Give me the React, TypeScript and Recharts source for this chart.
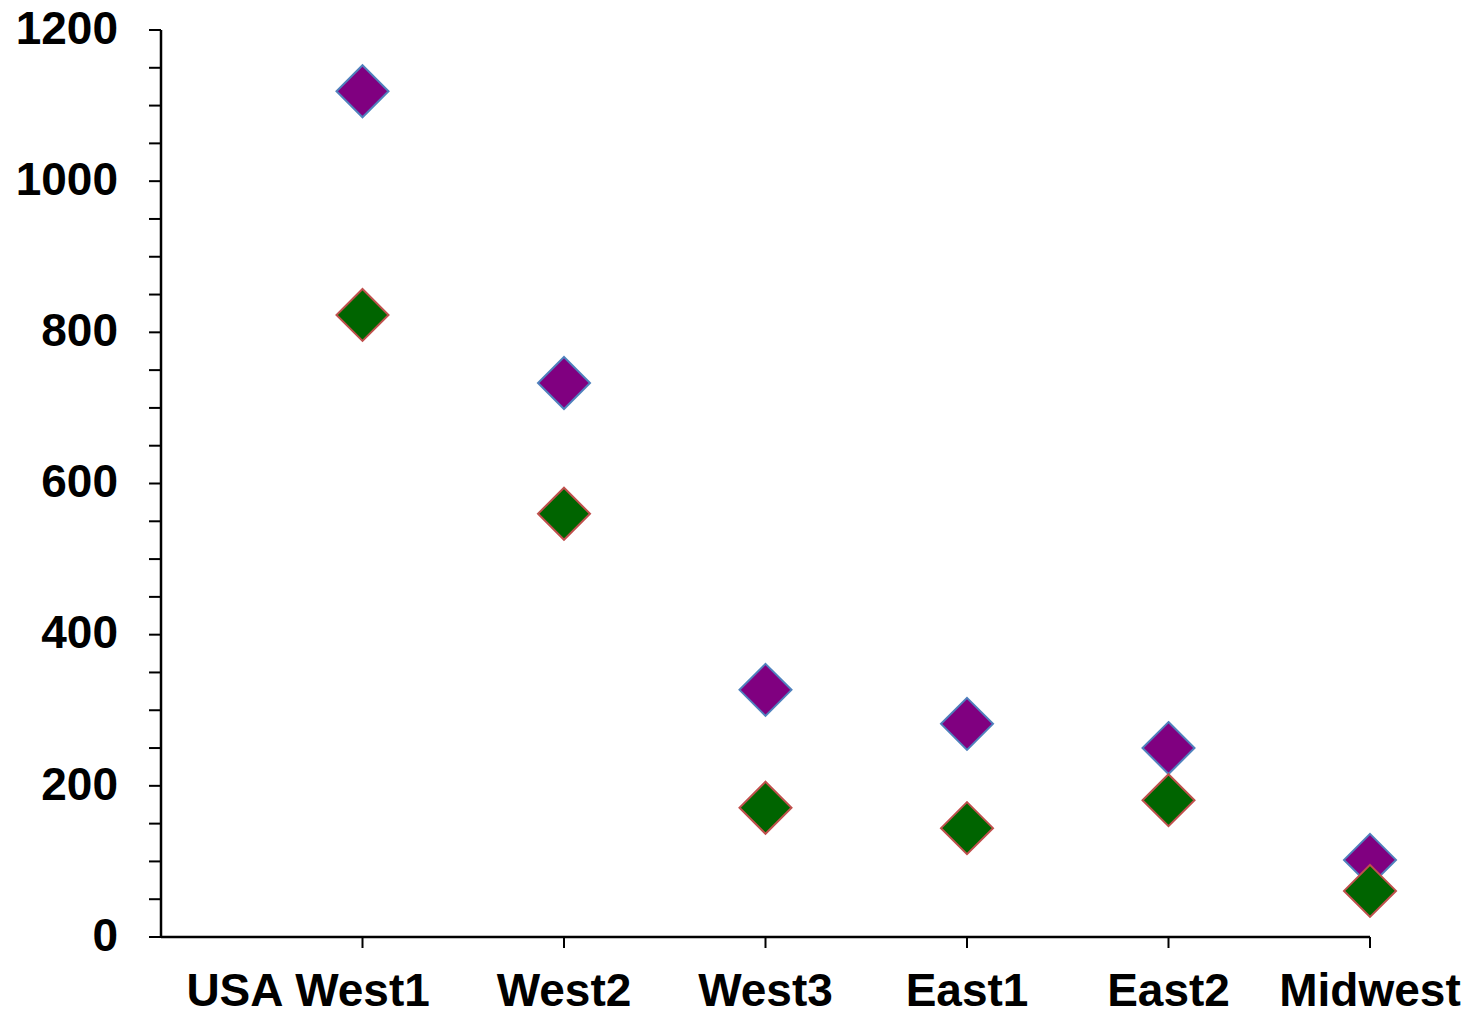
import React from 'react'
import { ScatterChart, Scatter, XAxis, YAxis } from 'recharts'

const categories = ['West1', 'West2', 'West3', 'East1', 'East2', 'Midwest']
const purpleValues = [1119, 733, 327, 282, 250, 102]
const greenValues = [823, 560, 171, 144, 181, 61]
const xTicks = [1, 2, 3, 4, 5, 6]
const yTicks = [0, 50, 100, 150, 200, 250, 300, 350, 400, 450, 500, 550, 600, 650, 700, 750, 800, 850, 900, 950, 1000, 1050, 1100, 1150, 1200]
const axisTitle = 'USA'

const purpleData = purpleValues.map((v, i) => ({ x: xTicks[i], y: v }))
const greenData = greenValues.map((v, i) => ({ x: xTicks[i], y: v }))

const FONT = '"Liberation Sans", Arial, sans-serif'

const Diamond = ({ cx, cy, fill, stroke }: any) => {
  const r = 26
  return (
    <path
      d={`M${cx},${cy - r} L${cx + r},${cy} L${cx},${cy + r} L${cx - r},${cy} Z`}
      fill={fill}
      stroke={stroke}
      strokeWidth={2}
    />
  )
}

const YTick = ({ x, y, payload }: any) => {
  if (payload.value % 200 !== 0) return <g />
  return (
    <text x={x} y={y} dy="0.3em" textAnchor="end" fontFamily={FONT} fontWeight="bold" fontSize={46} fill="#000">
      {payload.value}
    </text>
  )
}

const XTick = ({ x, y, payload, index }: any) => (
  <g>
    {index === 0 && (
      <text x={x - 79} y={y} dy="0.71em" textAnchor="end" fontFamily={FONT} fontWeight="bold" fontSize={46} fill="#000">
        {axisTitle}
      </text>
    )}
    <text x={x} y={y} dy="0.71em" textAnchor="middle" fontFamily={FONT} fontWeight="bold" fontSize={46} fill="#000">
      {categories[payload.value - 1]}
    </text>
  </g>
)

export default function App() {
  return (
    <div style={{ position: 'absolute', top: 0, left: 0, width: 1482, height: 1016 }}>
      <ScatterChart width={1482} height={1016} margin={{ top: 30, right: 112, bottom: 0, left: 0 }}>
        <XAxis
          type="number"
          dataKey="x"
          domain={[0, 6]}
          ticks={xTicks}
          interval={0}
          height={79}
          tickSize={11}
          tickMargin={25}
          tick={<XTick />}
          axisLine={{ stroke: '#000', strokeWidth: 2.5 }}
          tickLine={{ stroke: '#000', strokeWidth: 2 }}
        />
        <YAxis
          type="number"
          dataKey="y"
          domain={[0, 1200]}
          ticks={yTicks}
          interval={0}
          width={161}
          tickSize={12}
          tickMargin={31}
          tick={<YTick />}
          axisLine={{ stroke: '#000', strokeWidth: 2.5 }}
          tickLine={{ stroke: '#000', strokeWidth: 2 }}
        />
        <Scatter data={purpleData} isAnimationActive={false} shape={(p: any) => <Diamond {...p} fill="#800080" stroke="#4f81bd" />} />
        <Scatter data={greenData} isAnimationActive={false} shape={(p: any) => <Diamond {...p} fill="#006400" stroke="#c0504d" />} />
      </ScatterChart>
    </div>
  )
}
